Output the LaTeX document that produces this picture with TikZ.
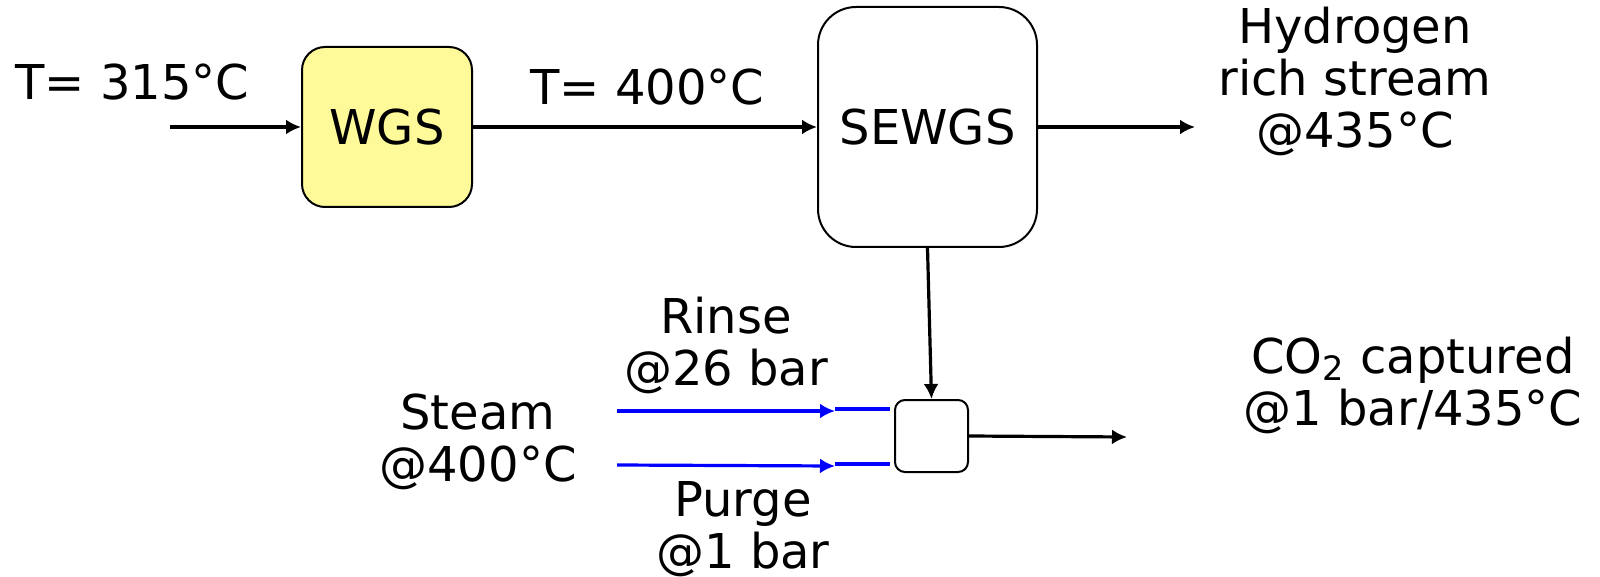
\documentclass[tikz,border=0pt]{standalone}
\usepackage{fontspec}
\setmainfont{DejaVu Sans}
\usetikzlibrary{positioning, arrows.meta}

\begin{document}
\begin{tikzpicture}[
    x=0.5pt, y=-0.5pt,
    font=\fontsize{24pt}{26pt}\selectfont,
    unit/.style={
        rectangle,
        draw=black,
        line width=1pt,
        align=center
    },
    flow/.style={-{Latex[length=7.5pt,width=7.5pt]}, line width=1.6pt},
    steamflow/.style={-{Latex[length=7.5pt,width=7.5pt]}, line width=1.6pt, draw=blue},
    stub/.style={line width=1.6pt, draw=blue},
    tag/.style={align=center, inner sep=0pt}
]
\useasboundingbox (0,0) rectangle (1600,577);

% --- Reactores ---
\node[unit, fill=yellow!40, rounded corners=11.5pt, minimum width=85pt, minimum height=80pt] (wgs) at (387,127) {WGS};
\node[unit, fill=white, rounded corners=19pt, minimum width=109.5pt, minimum height=120pt] (sewgs) at (927.5,127) {SEWGS};
\node[unit, rounded corners=5pt, minimum width=36.5pt, minimum height=36pt] (cell) at (931.5,436) {};

% --- Extremos libres ---
\coordinate (feed) at (170,127);
\coordinate (h2out) at (1195,127);
\coordinate (co2out) at (1127,437);
\coordinate (rinsein) at (617,411);
\coordinate (rinsetip) at (835,411);
\coordinate (rinsea) at (835,409);
\coordinate (rinseb) at (890,409);
\coordinate (purgein) at (617,465);
\coordinate (purgetip) at (835,466);
\coordinate (purgea) at (835,464);
\coordinate (purgeb) at (890,464);

% --- Flechas ---
\draw[flow] (feed) -- (wgs.west |- feed);
\draw[flow] (wgs.east |- feed) -- (sewgs.west |- feed);
\draw[flow] (sewgs.east |- h2out) -- (h2out);
\draw[flow] (sewgs.south) -- (cell.north);
\draw[flow] (cell.east) -- (co2out);
\draw[steamflow] (rinsein) -- (rinsetip);
\draw[stub] (rinsea) -- (rinseb);
\draw[steamflow] (purgein) -- (purgetip);
\draw[stub] (purgea) -- (purgeb);

% --- Etiquetas ---
\node[tag, anchor=base west] (tin) at (15,100) {T= 315°C};
\node[tag, anchor=base west] (tmid) at (530,105) {T= 400°C};
\node[tag] (h2) at (1355,81) {Hydrogen\\rich stream\\@435°C};
\node[tag] (co2) at (1413,385) {CO\textsubscript{2} captured\\@1 bar/435°C};
\node[tag] (rinse) at (726,345) {Rinse\\@26 bar};
\node[tag] (steam) at (478,441.5) {Steam\\@400°C};
\node[tag] (purge) at (743,529) {Purge\\@1 bar};

\end{tikzpicture}
\end{document}
